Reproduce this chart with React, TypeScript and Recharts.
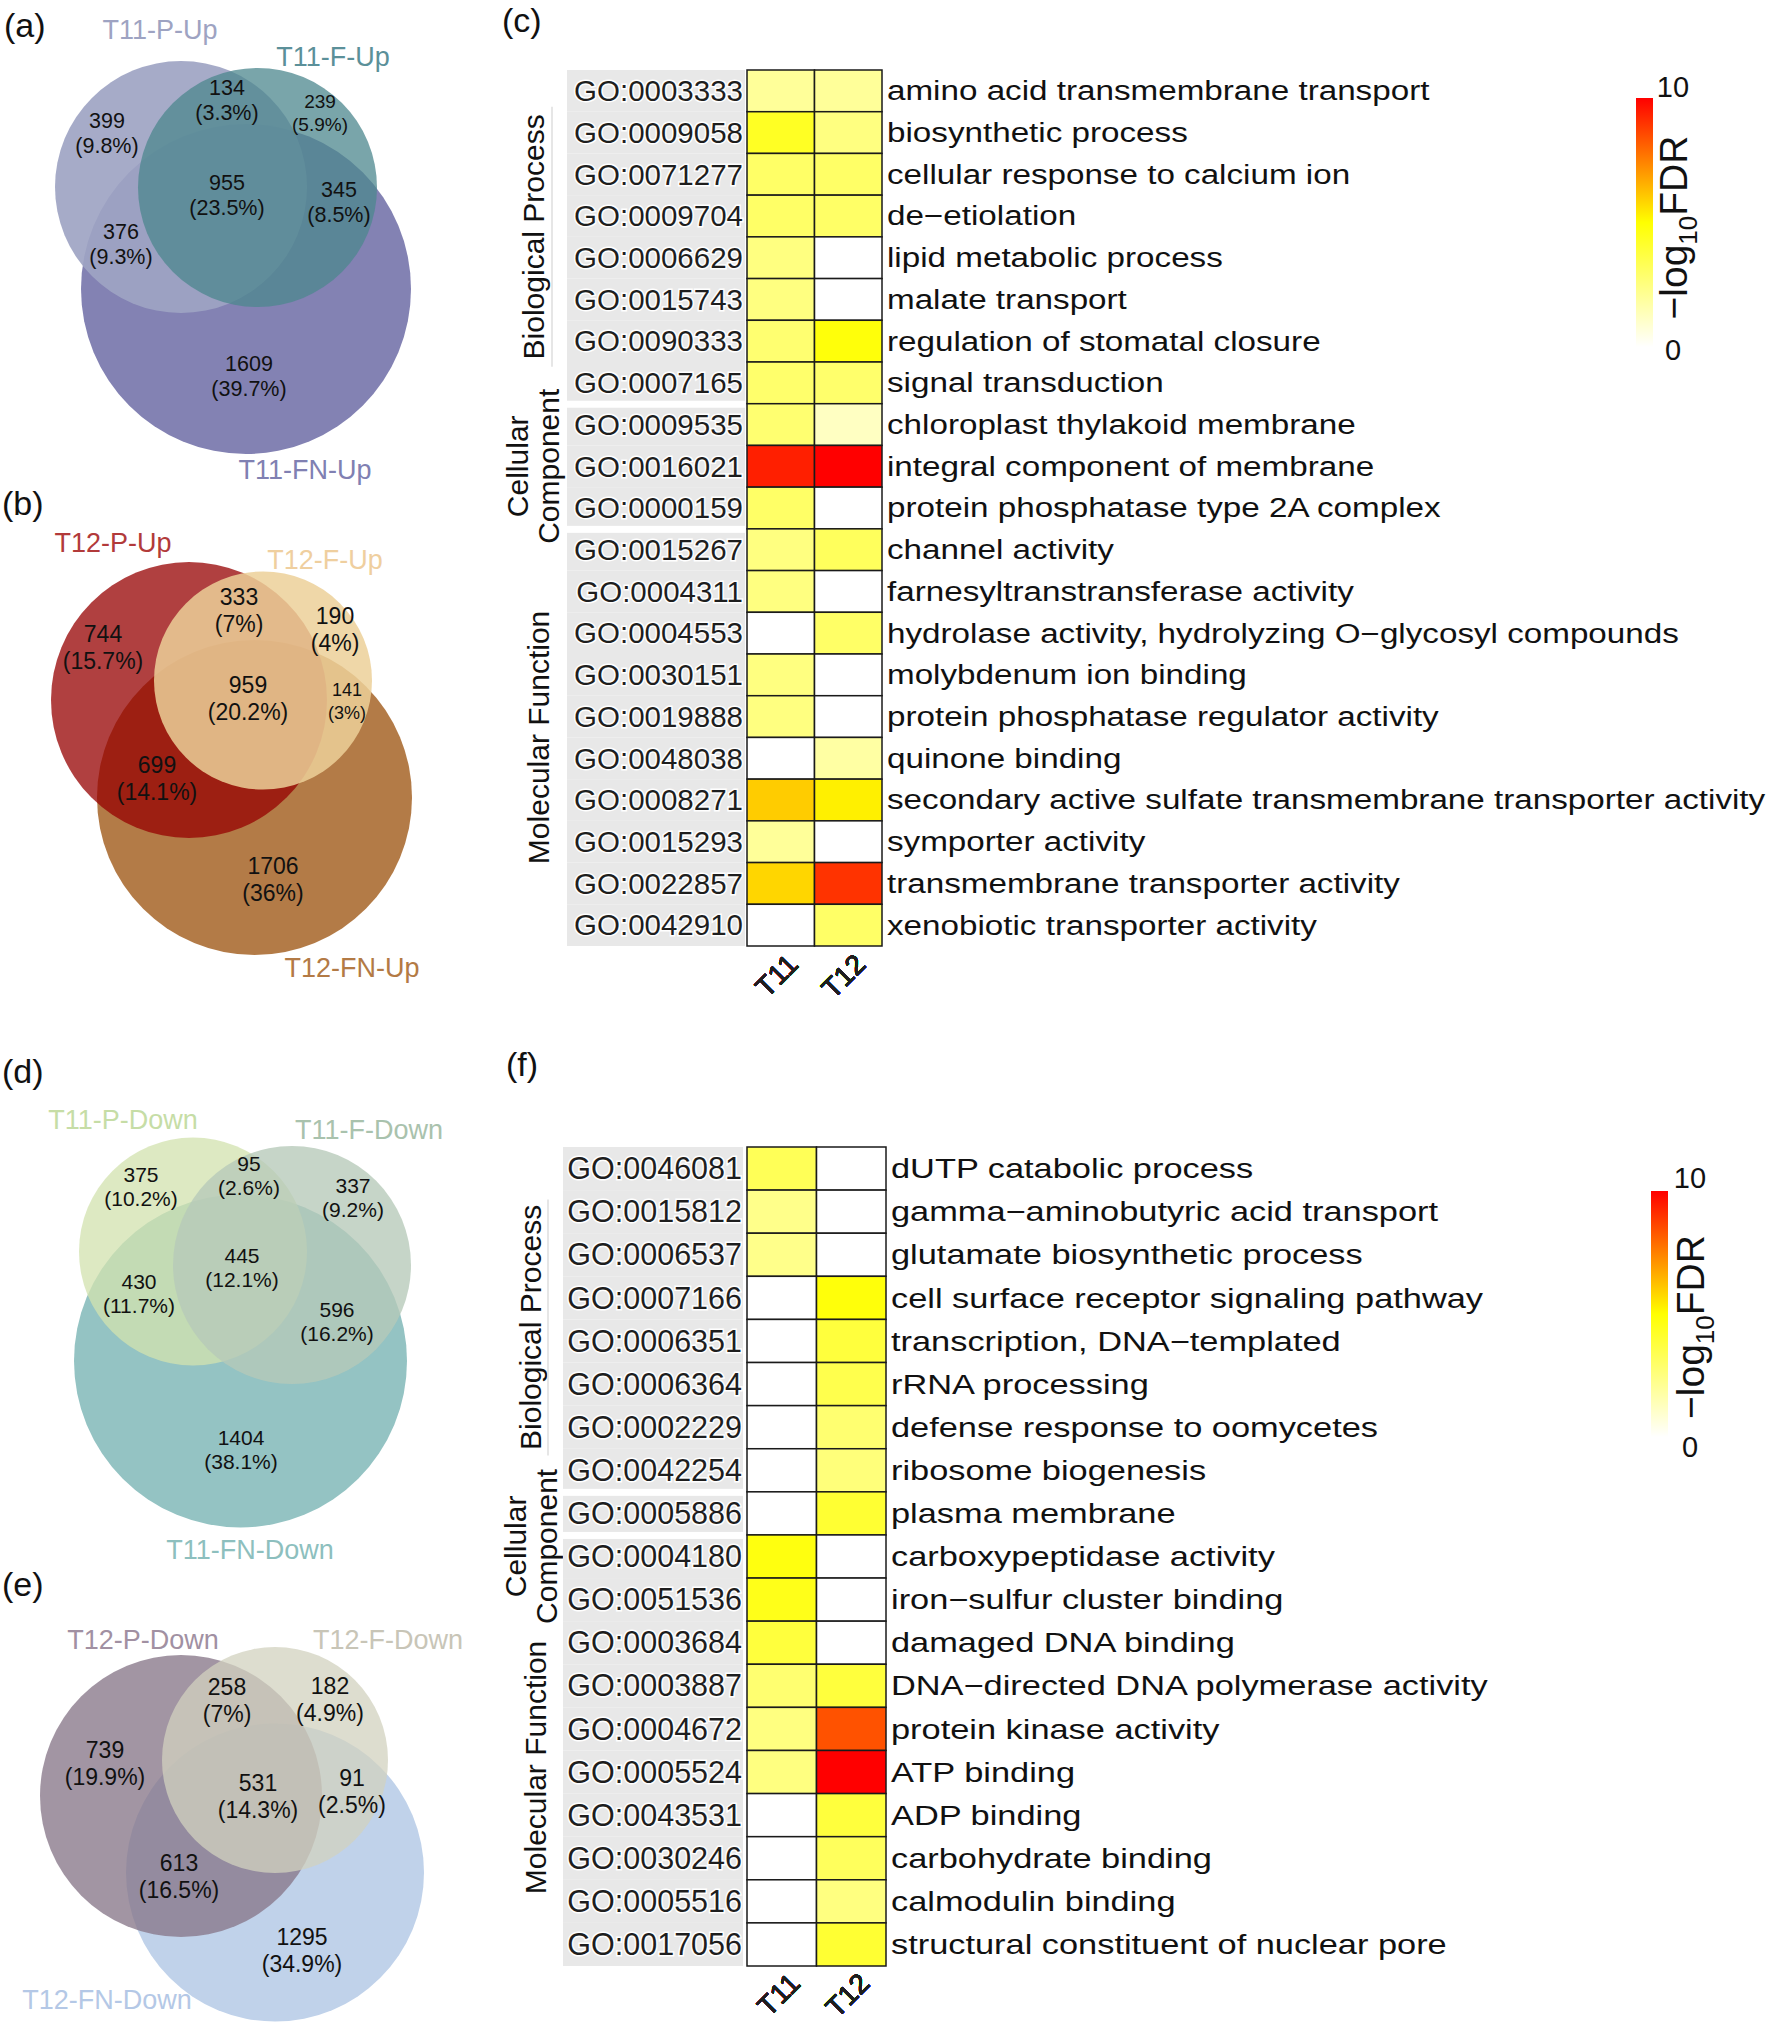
import React from "react"
import { ScatterChart, Scatter, XAxis, YAxis, BarChart, Bar } from "recharts"

const FONT = "'Liberation Sans', Arial, Helvetica, sans-serif"

// Venn regions, always in this order:
// P only, P&F, F only, P&FN, P&F&FN, F&FN, FN only
const vennSetsA = ["T11-P-Up", "T11-F-Up", "T11-FN-Up"]
const vennCountsA = [399, 134, 239, 376, 955, 345, 1609]
const vennPctA = ["9.8%", "3.3%", "5.9%", "9.3%", "23.5%", "8.5%", "39.7%"]

const vennSetsB = ["T12-P-Up", "T12-F-Up", "T12-FN-Up"]
const vennCountsB = [744, 333, 190, 699, 959, 141, 1706]
const vennPctB = ["15.7%", "7%", "4%", "14.1%", "20.2%", "3%", "36%"]

const vennSetsD = ["T11-P-Down", "T11-F-Down", "T11-FN-Down"]
const vennCountsD = [375, 95, 337, 430, 445, 596, 1404]
const vennPctD = ["10.2%", "2.6%", "9.2%", "11.7%", "12.1%", "16.2%", "38.1%"]

const vennSetsE = ["T12-P-Down", "T12-F-Down", "T12-FN-Down"]
const vennCountsE = [739, 258, 182, 613, 531, 91, 1295]
const vennPctE = ["19.9%", "7%", "4.9%", "16.5%", "14.3%", "2.5%", "34.9%"]

const samples = ["T11", "T12"]

// (c) up-regulated GO enrichment, -log10 FDR (null = not enriched)
const goUp = [
  "GO:0003333", "GO:0009058", "GO:0071277", "GO:0009704", "GO:0006629", "GO:0015743", "GO:0090333",
  "GO:0007165", "GO:0009535", "GO:0016021", "GO:0000159", "GO:0015267", "GO:0004311", "GO:0004553",
  "GO:0030151", "GO:0019888", "GO:0048038", "GO:0008271", "GO:0015293", "GO:0022857", "GO:0042910",
]
const termUp = [
  "amino acid transmembrane transport", "biosynthetic process", "cellular response to calcium ion",
  "de\u2212etiolation", "lipid metabolic process", "malate transport", "regulation of stomatal closure",
  "signal transduction", "chloroplast thylakoid membrane", "integral component of membrane",
  "protein phosphatase type 2A complex", "channel activity", "farnesyltranstransferase activity",
  "hydrolase activity, hydrolyzing O\u2212glycosyl compounds", "molybdenum ion binding",
  "protein phosphatase regulator activity", "quinone binding",
  "secondary active sulfate transmembrane transporter activity", "symporter activity",
  "transmembrane transporter activity", "xenobiotic transporter activity",
]
const t11Up = [2.0, 4.3, 3.0, 3.0, 2.5, 2.5, 2.8, 2.9, 2.8, 9.4, 3.0, 2.5, 2.5, null, 2.5, 2.5, null, 6.0, 2.0, 5.8, null]
const t12Up = [2.0, 2.5, 3.0, 3.0, null, null, 4.8, 2.9, 1.2, 10, null, 3.2, null, 3.0, null, null, 1.8, 5.3, null, 9.0, 3.0]
const groupsUp = [8, 3, 10]

// (f) down-regulated GO enrichment
const goDown = [
  "GO:0046081", "GO:0015812", "GO:0006537", "GO:0007166", "GO:0006351", "GO:0006364", "GO:0002229",
  "GO:0042254", "GO:0005886", "GO:0004180", "GO:0051536", "GO:0003684", "GO:0003887", "GO:0004672",
  "GO:0005524", "GO:0043531", "GO:0030246", "GO:0005516", "GO:0017056",
]
const termDown = [
  "dUTP catabolic process", "gamma\u2212aminobutyric acid transport", "glutamate biosynthetic process",
  "cell surface receptor signaling pathway", "transcription, DNA\u2212templated", "rRNA processing",
  "defense response to oomycetes", "ribosome biogenesis", "plasma membrane", "carboxypeptidase activity",
  "iron\u2212sulfur cluster binding", "damaged DNA binding", "DNA\u2212directed DNA polymerase activity",
  "protein kinase activity", "ATP binding", "ADP binding", "carbohydrate binding", "calmodulin binding",
  "structural constituent of nuclear pore",
]
const t11Down = [3.3, 2.3, 2.3, null, null, null, null, null, null, 4.7, 4.5, 3.8, 2.8, 2.5, 2.5, null, null, null, null]
const t12Down = [null, null, null, 4.8, 3.8, 3.5, 2.8, 2.6, 4.0, null, null, null, 3.8, 8.4, 10, 3.8, 3.2, 2.5, 4.0]
const groupsDown = [8, 1, 10]

const fdrBar = [{ k: "fdr", v: 10 }]
const fdrTicks = [0, 10]

// ---------- layout ----------
const vennA = {
  top: 0, height: 500, font: 21.5, gap: 25, smallFont: 19, smallGap: 23, small: [2],
  circles: [
    { x: 246, y: 289, r: 165, fill: "#8382b3", op: 1 },
    { x: 181, y: 187, r: 126, fill: "#9ea4c3", op: 0.92 },
    { x: 257.5, y: 187.5, r: 119.5, fill: "#4c878d", op: 0.75 },
  ],
  spots: [[107, 132.5], [227, 100], [320, 112.5], [121, 243.5], [227, 195], [339, 202], [249, 376]],
  setSpots: [[160, 30], [333, 57], [305, 470]],
  setColors: ["#9ea3c2", "#5b9099", "#8080b2"],
}
const vennB = {
  top: 500, height: 510, font: 23, gap: 27, smallFont: 18, smallGap: 23, small: [5],
  circles: [
    { x: 254.5, y: 797.5, r: 157.5, fill: "#b37b47", op: 1 },
    { x: 189, y: 700, r: 138, fill: "#950000", op: 0.75 },
    { x: 263, y: 680.5, r: 109, fill: "#ecd099", op: 0.85 },
  ],
  spots: [[103, 647.5], [239, 610], [335, 629.5], [157, 778.5], [248, 698.5], [347, 701.5], [273, 879.5]],
  setSpots: [[113, 543], [325, 560], [352, 968]],
  setColors: ["#b23a3a", "#efcf9f", "#b37a45"],
}
const vennD = {
  top: 1030, height: 545, font: 21, gap: 24, smallFont: 21, smallGap: 24, small: [],
  circles: [
    { x: 240.5, y: 1361, r: 166.5, fill: "#94c3c3", op: 1 },
    { x: 193, y: 1251.5, r: 114, fill: "#d2e2af", op: 0.76 },
    { x: 292, y: 1265, r: 119, fill: "#b6c9b9", op: 0.78 },
  ],
  spots: [[141, 1187], [249, 1176], [353, 1197.5], [139, 1294], [242, 1268], [337, 1322], [241, 1449.5]],
  setSpots: [[123, 1120], [369, 1130], [250, 1550]],
  setColors: ["#c6dda6", "#a9c2ad", "#8dbfbe"],
}
const vennE = {
  top: 1575, height: 449, font: 23, gap: 27, smallFont: 23, smallGap: 27, small: [],
  circles: [
    { x: 275, y: 1872.5, r: 149, fill: "#c0d2ea", op: 1 },
    { x: 181, y: 1796, r: 141, fill: "#887789", op: 0.78 },
    { x: 275, y: 1760, r: 113, fill: "#d2d2bf", op: 0.75 },
  ],
  spots: [[105, 1763.5], [227, 1700.5], [330, 1699.5], [179, 1876], [258, 1796.5], [352, 1791.5], [302, 1950]],
  setSpots: [[143, 1640], [388, 1640], [107, 2000]],
  setColors: ["#a190a2", "#c8c5b7", "#b4c8e6"],
}

const VENN_W = 490

function fdrColor(v: number | null) {
  if (v == null) return "#ffffff"
  const t = Math.max(0, Math.min(10, v))
  if (t <= 5) return `rgb(255,255,${Math.round(255 * (1 - t / 5))})`
  return `rgb(255,${Math.round(255 * (1 - (t - 5) / 5))},0)`
}

function VennPanel({ lay, sets, counts, pcts }: any) {
  const regions = counts.map((c: number, i: number) => ({
    x: lay.spots[i][0], y: lay.spots[i][1], count: c, pct: pcts[i], small: lay.small.includes(i),
  }))
  const setData = sets.map((s: string, i: number) => ({
    x: lay.setSpots[i][0], y: lay.setSpots[i][1], name: s, color: lay.setColors[i],
  }))
  const circleShape = (p: any) => (
    <circle cx={p.cx} cy={p.cy} r={p.payload.r} fill={p.payload.fill} fillOpacity={p.payload.op} />
  )
  const regionShape = (p: any) => {
    const f = p.payload.small ? lay.smallFont : lay.font
    const g = p.payload.small ? lay.smallGap : lay.gap
    return (
      <g fontFamily={FONT} fontSize={f} fill="#111" textAnchor="middle">
        <text x={p.cx} y={p.cy - g / 2} dy="0.35em">{p.payload.count}</text>
        <text x={p.cx} y={p.cy + g / 2} dy="0.35em">({p.payload.pct})</text>
      </g>
    )
  }
  const setShape = (p: any) => (
    <text x={p.cx} y={p.cy} dy="0.35em" textAnchor="middle" fontFamily={FONT} fontSize={27} fill={p.payload.color}>
      {p.payload.name}
    </text>
  )
  return (
    <div style={{ position: "absolute", left: 0, top: lay.top }}>
      <ScatterChart width={VENN_W} height={lay.height} margin={{ top: 0, right: 0, bottom: 0, left: 0 }}>
        <XAxis type="number" dataKey="x" domain={[0, VENN_W]} allowDataOverflow hide />
        <YAxis type="number" dataKey="y" domain={[lay.top, lay.top + lay.height]} allowDataOverflow reversed hide />
        <Scatter data={lay.circles} shape={circleShape} isAnimationActive={false} />
        <Scatter data={regions} shape={regionShape} isAnimationActive={false} />
        <Scatter data={setData} shape={setShape} isAnimationActive={false} />
      </ScatterChart>
    </div>
  )
}

// ---------- heatmaps ----------
const CH_LEFT = 480
const CH_W = 1290
const PLOT_LEFT = 747
const YAW = 200
const XAH = 50

const heatC = {
  top: 0, height: 1010, plotTop: 70, plotBottom: 946, plotRight: 882,
  goFont: 29.5, goRight: 743, grayLeft: 567, grayRight: 745,
  descX: 887, descFont: 27, descScale: 1.23,
  cats: [[{ t: "Biological Process", x: 533 }], [{ t: "Cellular", x: 517 }, { t: "Component", x: 548 }], [{ t: "Molecular Function", x: 538 }]],
  catDy: [0, 0, 0],
  line: { x: 552, half: 130 },
  tickDx: 19, tickDy: 20,
}
const heatF = {
  top: 1100, height: 924, plotTop: 1147, plotBottom: 1966, plotRight: 886,
  goFont: 30.5, goRight: 742, grayLeft: 563, grayRight: 743,
  descX: 891, descFont: 27.5, descScale: 1.25,
  cats: [[{ t: "Biological Process", x: 530 }], [{ t: "Cellular", x: 515 }, { t: "Component", x: 546 }], [{ t: "Molecular Function", x: 535 }]],
  catDy: [8, 33, 17],
  line: { x: 548, half: 128 },
  tickDx: 20, tickDy: 19,
}

function Heatmap({ cfg, ids, terms, v11, v12, groups }: any) {
  const cells = ids.flatMap((id: string, i: number) => [
    { go: id, s: samples[0], v: v11[i] },
    { go: id, s: samples[1], v: v12[i] },
  ])
  const rowH = (cfg.plotBottom - cfg.plotTop) / ids.length
  const cellW = (cfg.plotRight - PLOT_LEFT) / samples.length
  const starts = groups.map((_: number, g: number) => groups.slice(0, g).reduce((a: number, b: number) => a + b, 0))
  const X = (v: number) => v - CH_LEFT

  const cellShape = (p: any) => (
    <rect x={p.cx - cellW / 2} y={p.cy - rowH / 2} width={cellW} height={rowH}
      fill={fdrColor(p.payload.v)} stroke="#1a1a1a" strokeWidth={1.5} />
  )

  const goTick = (p: any) => {
    const id = p.payload.value
    const i = ids.indexOf(id)
    const g = starts.findIndex((s: number, k: number) => i >= s && i < s + groups[k])
    const first = i === starts[g]
    const last = i === starts[g] + groups[g] - 1
    const y = p.y
    const top = y - rowH / 2 + (first && g > 0 ? 4 : 0)
    const bot = y + rowH / 2 - (last && g < groups.length - 1 ? 3 : 0)
    let cat = null
    if (first) {
      const cy = y + ((groups[g] - 1) / 2) * rowH + cfg.catDy[g]
      cat = (
        <g>
          {cfg.cats[g].map((l: any) => (
            <text key={l.t} transform={`translate(${X(l.x)},${cy}) rotate(-90)`} dy="0.35em"
              textAnchor="middle" fontFamily={FONT} fontSize={30} fill="#111">{l.t}</text>
          ))}
          {g === 0 && (
            <line x1={X(cfg.line.x)} x2={X(cfg.line.x)} y1={cy - cfg.line.half} y2={cy + cfg.line.half}
              stroke="#d6d6d6" strokeWidth={1.2} />
          )}
        </g>
      )
    }
    return (
      <g>
        <rect x={X(cfg.grayLeft)} y={top} width={cfg.grayRight - cfg.grayLeft} height={bot - top} fill="#e8e8e8" />
        {cat}
        <text x={X(cfg.goRight)} y={y} dy="0.35em" textAnchor="end" fontFamily={FONT} fontSize={cfg.goFont}
          fill="#1e1e1e" stroke="#ffffff" strokeWidth={3} style={{ paintOrder: "stroke" }}>{id}</text>
        <text transform={`translate(${X(cfg.descX)},${y}) scale(${cfg.descScale},1)`} dy="0.35em"
          fontFamily={FONT} fontSize={cfg.descFont} fill="#111">{terms[i]}</text>
      </g>
    )
  }

  const sampleTick = (p: any) => (
    <text transform={`translate(${p.x + cfg.tickDx},${cfg.plotBottom - cfg.top + cfg.tickDy}) rotate(-45)`}
      textAnchor="end" fontFamily={FONT} fontSize={28} fill="#1e1e1e">{p.payload.value}</text>
  )

  return (
    <div style={{ position: "absolute", left: CH_LEFT, top: cfg.top }}>
      <ScatterChart width={CH_W} height={cfg.height}
        margin={{
          top: cfg.plotTop - cfg.top,
          left: PLOT_LEFT - CH_LEFT - YAW,
          right: CH_LEFT + CH_W - cfg.plotRight,
          bottom: cfg.top + cfg.height - cfg.plotBottom - XAH,
        }}>
        <XAxis type="category" dataKey="s" allowDuplicatedCategory={false} scale="band" height={XAH}
          axisLine={false} tickLine={false} tickSize={0} tickMargin={0} interval={0} tick={sampleTick} />
        <YAxis type="category" dataKey="go" allowDuplicatedCategory={false} scale="band" reversed width={YAW}
          axisLine={false} tickLine={false} tickSize={0} tickMargin={0} interval={0} tick={goTick} />
        <Scatter data={cells} shape={cellShape} isAnimationActive={false} />
      </ScatterChart>
    </div>
  )
}

function ColorBar({ left, top, height, barTop, barBottom, id, tickDx, labelDx, labelDy, topDy, botDy }: any) {
  const W = 160
  const mTop = barTop - top
  const mBot = top + height - barBottom
  const midY = (barTop + barBottom) / 2 - top + labelDy
  const tick = (p: any) => {
    const v = p.payload.value
    return (
      <g>
        <text x={p.x + tickDx} y={p.y + (v === 10 ? topDy : botDy)} dy="0.35em" textAnchor="middle"
          fontFamily={FONT} fontSize={29} fill="#111">{v}</text>
        {v === 10 && (
          <text transform={`translate(${p.x + labelDx},${midY}) rotate(-90)`} textAnchor="middle"
            fontFamily={FONT} fontSize={39} fill="#111">
            <tspan>{"\u2212log"}</tspan>
            <tspan dy={10} fontSize={26}>10</tspan>
            <tspan dy={-10}>FDR</tspan>
          </text>
        )}
      </g>
    )
  }
  return (
    <div style={{ position: "absolute", left, top }}>
      <BarChart width={W} height={height} data={fdrBar} barCategoryGap={0}
        margin={{ top: mTop, bottom: mBot, left: 36, right: W - 53 - 70 }}>
        <defs>
          <linearGradient id={id} x1="0" y1="1" x2="0" y2="0">
            <stop offset="0%" stopColor="#ffffff" />
            <stop offset="50%" stopColor="#ffff00" />
            <stop offset="100%" stopColor="#ff0000" />
          </linearGradient>
        </defs>
        <XAxis dataKey="k" hide />
        <YAxis orientation="right" domain={[0, 10]} ticks={fdrTicks} width={70} axisLine={false}
          tickLine={false} tickSize={0} tickMargin={0} tick={tick} />
        <Bar dataKey="v" fill={`url(#${id})`} isAnimationActive={false} />
      </BarChart>
    </div>
  )
}

const letterStyle = (left: number, cy: number): React.CSSProperties => ({
  position: "absolute", left, top: cy - 19, fontFamily: FONT, fontSize: 34, lineHeight: "38px", color: "#111",
})

export default function App() {
  return (
    <div style={{ position: "relative", width: 1770, height: 2024, background: "#ffffff", fontFamily: FONT, overflow: "hidden" }}>
      <style>{"body{margin:0}"}</style>
      <VennPanel lay={vennA} sets={vennSetsA} counts={vennCountsA} pcts={vennPctA} />
      <VennPanel lay={vennB} sets={vennSetsB} counts={vennCountsB} pcts={vennPctB} />
      <VennPanel lay={vennD} sets={vennSetsD} counts={vennCountsD} pcts={vennPctD} />
      <VennPanel lay={vennE} sets={vennSetsE} counts={vennCountsE} pcts={vennPctE} />
      <Heatmap cfg={heatC} ids={goUp} terms={termUp} v11={t11Up} v12={t12Up} groups={groupsUp} />
      <Heatmap cfg={heatF} ids={goDown} terms={termDown} v11={t11Down} v12={t12Down} groups={groupsDown} />
      <ColorBar left={1600} top={60} height={310} barTop={98} barBottom={347} id="fdrGradC"
        tickDx={20} labelDx={34} labelDy={5} topDy={-11} botDy={3} />
      <ColorBar left={1615} top={1150} height={320} barTop={1191} barBottom={1437} id="fdrGradF"
        tickDx={22} labelDx={36} labelDy={13} topDy={-13} botDy={10} />
      <div style={letterStyle(4, 25)}>(a)</div>
      <div style={letterStyle(2, 503)}>(b)</div>
      <div style={letterStyle(502, 20)}>(c)</div>
      <div style={letterStyle(2, 1071)}>(d)</div>
      <div style={letterStyle(2, 1584)}>(e)</div>
      <div style={letterStyle(506, 1064)}>(f)</div>
    </div>
  )
}
